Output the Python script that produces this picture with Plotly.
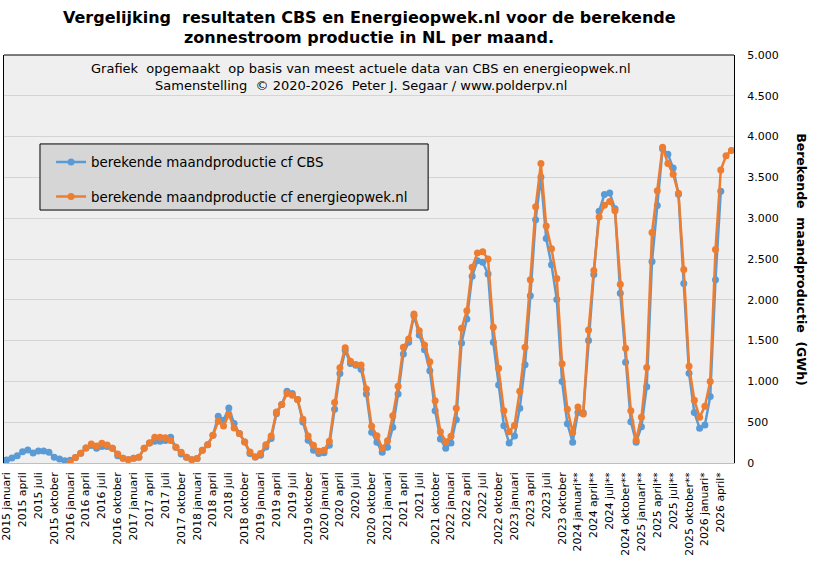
import plotly.graph_objects as go

# maandproductie in GWh, CBS vanaf januari 2015
cbs = [37, 62, 90, 139, 160, 123, 148, 148, 131, 70, 49, 29,
       33, 67, 120, 185, 213, 180, 201, 201, 180, 90, 57, 41,
       57, 70, 180, 246, 267, 267, 275, 316, 193, 111, 70, 41,
       55, 155, 225, 340, 573, 524, 675, 483, 360, 258, 115, 74,
       94, 196, 299, 605, 716, 879, 851, 777, 503, 278, 155, 115,
       127, 217, 658, 1096, 1380, 1220, 1198, 1150, 846, 376, 253, 131,
       192, 437, 846, 1336, 1479, 1806, 1569, 1389, 1132, 641, 294, 180,
       245, 531, 1471, 1765, 2288, 2480, 2459, 2316, 1479, 956, 458, 245,
       330, 670, 1205, 2050, 2980, 3505, 2750, 2430, 2005, 1000, 480, 255,
       620, 615, 1500, 2310, 3085, 3290, 3310, 3115, 2080, 1235, 505, 255,
       445, 935, 2470, 3155, 3850, 3785, 3615, 3295, 2200, 1100, 620, 425,
       465, 815, 2245, 3330]

# maandproductie in GWh, energieopwek.nl vanaf januari 2016
energieopwek = [8, 67, 120, 185, 234, 209, 242, 221, 180, 111, 57, 41,
                57, 70, 180, 246, 316, 316, 308, 275, 193, 131, 70, 41,
                55, 155, 225, 340, 511, 454, 593, 430, 360, 258, 135, 74,
                115, 225, 331, 626, 716, 851, 830, 777, 536, 331, 217, 143,
                155, 266, 740, 1166, 1411, 1247, 1207, 1201, 907, 449, 335, 180,
                274, 580, 940, 1418, 1520, 1826, 1622, 1446, 1242, 764, 384, 261,
                327, 670, 1650, 1867, 2398, 2574, 2590, 2500, 1663, 1160, 641, 384,
                460, 880, 1420, 2245, 3140, 3670, 2905, 2625, 2260, 1215, 660, 375,
                685, 600, 1630, 2360, 3015, 3160, 3205, 3090, 2190, 1405, 640, 280,
                560, 1170, 2825, 3335, 3870, 3670, 3540, 3305, 2370, 1185, 770, 560,
                695, 1000, 2615, 3590, 3765, 3830]

eo_start = 12  # energieopwek begint in januari 2016
n_months = 138

tick_labels = [
    "2015 januari", "2015 april", "2015 juli", "2015 oktober",
    "2016 januari", "2016 april", "2016 juli", "2016 oktober",
    "2017 januari", "2017 april", "2017 juli", "2017 oktober",
    "2018 januari", "2018 april", "2018 juli", "2018 oktober",
    "2019 januari", "2019 april", "2019 juli", "2019 oktober",
    "2020 januari", "2020 april", "2020 juli", "2020 oktober",
    "2021 januari", "2021 april", "2021 juli", "2021 oktober",
    "2022 januari", "2022 april", "2022 juli", "2022 oktober",
    "2023 januari", "2023 april", "2023 juli", "2023 oktober",
    "2024 januari**", "2024 april**", "2024 juli**", "2024 oktober**",
    "2025 januari**", "2025 april**", "2025 juli**", "2025 oktober**",
    "2026 januari*", "2026 april*",
]

BLUE = "#5B9BD5"
ORANGE = "#ED7D31"
FONT = "DejaVu Sans"

fig = go.Figure()
fig.add_trace(go.Scatter(
    x=list(range(len(cbs))), y=cbs, mode="lines+markers",
    name="berekende maandproductie cf CBS", legendgroup="a",
    line=dict(color=BLUE, width=2.5), marker=dict(color=BLUE, size=7)))
fig.add_trace(go.Scatter(
    x=list(range(eo_start, eo_start + len(energieopwek))), y=energieopwek,
    mode="lines+markers",
    name="berekende maandproductie cf energieopwek.nl", legendgroup="b",
    line=dict(color=ORANGE, width=2.5), marker=dict(color=ORANGE, size=7)))

fig.update_xaxes(
    range=[-0.5, n_months - 0.5], automargin=False,
    tickvals=list(range(0, 3 * len(tick_labels), 3)), ticktext=tick_labels,
    tickangle=-90, tickfont=dict(family=FONT, size=10.8, color="black"),
    ticklabelstandoff=4,
    showgrid=False, zeroline=False, showline=True, linecolor="#bfbfbf")
fig.update_yaxes(
    side="right", range=[0, 5000], dtick=500, tickformat=",d", automargin=False,
    tickfont=dict(family=FONT, size=11, color="black"), ticklabelstandoff=10,
    gridcolor="#d4d4d4", zeroline=False,
    showline=True, mirror=True, linecolor="black", linewidth=1)

fig.add_shape(type="line", xref="paper", yref="paper", x0=0, x1=1, y0=1, y1=1,
              line=dict(color="black", width=1))
# legend box
fig.add_shape(type="rect", xref="paper", yref="paper", layer="above",
              x0=0.0493, x1=0.581, y0=0.620, y1=0.782,
              fillcolor="#d6d6d6", line=dict(color="black", width=1))

ann = dict(xref="paper", yref="paper", showarrow=False,
           xanchor="center", yanchor="middle")
fig.add_annotation(text="<b>Vergelijking  resultaten CBS en Energieopwek.nl voor de berekende</b>",
                   x=0.5, y=1.093, font=dict(family=FONT, size=16, color="black"), **ann)
fig.add_annotation(text="<b>zonnestroom productie in NL per maand.</b>",
                   x=0.5, y=1.044, font=dict(family=FONT, size=16, color="black"), **ann)
fig.add_annotation(text="Grafiek  opgemaakt  op basis van meest actuele data van CBS en energieopwek.nl",
                   x=0.489, y=0.968, font=dict(family=FONT, size=13, color="black"), **ann)
fig.add_annotation(text="Samenstelling  © 2020-2026  Peter J. Segaar / www.polderpv.nl",
                   x=0.489, y=0.926, font=dict(family=FONT, size=13, color="black"), **ann)
fig.add_annotation(text="<b>Berekende  maandproductie  (GWh)</b>", textangle=90,
                   x=1.093, y=0.4975, font=dict(family=FONT, size=12.5, color="black"), **ann)

fig.update_layout(
    width=813, height=561,
    margin=dict(l=4, r=79, t=55, b=98),
    paper_bgcolor="white", plot_bgcolor="#efefef",
    separators=",.",
    legend=dict(x=0.0645, y=0.775, xanchor="left", yanchor="top",
                bgcolor="rgba(0,0,0,0)", borderwidth=0, tracegroupgap=14,
                font=dict(family=FONT, size=13.4, color="black")),
    showlegend=True,
)

fig.write_html("out.html", config={"displayModeBar": False},
               post_script="document.body.style.margin='0';")
